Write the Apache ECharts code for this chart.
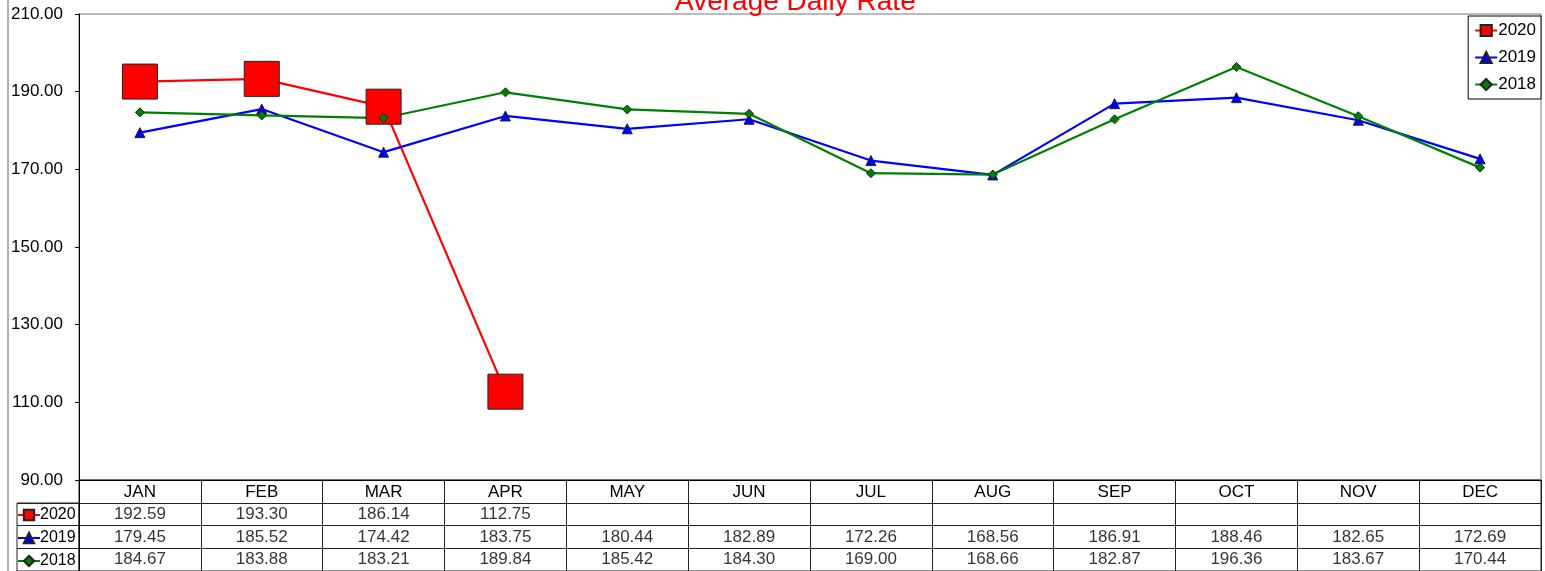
<!DOCTYPE html>
<html>
<head>
<meta charset="utf-8">
<script src="https://cdn.jsdelivr.net/npm/echarts@6/dist/echarts.min.js"></script>
<style>
  html, body { margin: 0; padding: 0; background: #fff; }
  #chart { width: 1545px; height: 571px; }
</style>
</head>
<body>
<div id="chart"></div>
<script>
// Chart data
const months = ["JAN", "FEB", "MAR", "APR", "MAY", "JUN", "JUL", "AUG", "SEP", "OCT", "NOV", "DEC"];
const years = ["2020", "2019", "2018"];
const rate2020 = [192.59, 193.30, 186.14, 112.75, null, null, null, null, null, null, null, null];
const rate2019 = [179.45, 185.52, 174.42, 183.75, 180.44, 182.89, 172.26, 168.56, 186.91, 188.46, 182.65, 172.69];
const rate2018 = [184.67, 183.88, 183.21, 189.84, 185.42, 184.30, 169.00, 168.66, 182.87, 196.36, 183.67, 170.44];

const chart = echarts.init(document.getElementById("chart"));
const font = "Liberation Sans, Arial, sans-serif";
const fs = 17;

// table cells: rows from bottom 2018 (0), 2019 (1), 2020 (2)
const tableRows = [rate2018, rate2019, rate2020];
const cells = [];
tableRows.forEach((row, r) => {
  row.forEach((v, i) => {
    if (v != null) cells.push([i, r + 0.5, v]);
  });
});

const lineSeries = (name, data, color, symbol, size) => ({
  name: name,
  type: "line",
  xAxisIndex: 0,
  yAxisIndex: 0,
  data: data,
  symbol: symbol,
  symbolSize: size,
  connectNulls: false,
  lineStyle: { color: color, width: 2.2 },
  itemStyle: { color: color, borderColor: "#222", borderWidth: 1 },
  emphasis: { disabled: true },
});

const rowLegend = (name, top) => ({
  data: [name],
  left: 17,
  top: top,
  padding: 0,
  itemWidth: 22,
  itemHeight: 13,
  selectedMode: false,
  textStyle: { fontFamily: font, fontSize: 16, color: "#000", padding: [0, 0, 0, -5] },
});

const option = {
  animation: false,
  title: {
    text: "Average Daily Rate",
    left: 670,
    top: -17,
    textStyle: { color: "#ff0000", fontFamily: font, fontSize: 28, fontWeight: "normal" },
  },
  legend: [
    {
      data: years,
      orient: "vertical",
      right: 4,
      top: 16,
      padding: [6, 5, 6, 6],
      itemGap: 10,
      itemWidth: 22,
      itemHeight: 14,
      borderColor: "#000",
      borderWidth: 1,
      backgroundColor: "#fff",
      selectedMode: false,
      textStyle: { fontFamily: font, fontSize: fs, color: "#000", padding: [0, 0, 0, -4] },
    },
    rowLegend("2020", 507),
    rowLegend("2019", 530),
    rowLegend("2018", 553),
  ],
  grid: [
    { left: 79, right: 4, top: 14, height: 466, show: true, borderColor: "#777", borderWidth: 1 },
    { left: 79, right: 4, top: 480, height: 92, show: true, borderColor: "#222", borderWidth: 1 },
    { left: 17, width: 62, top: 503, height: 69, show: true, borderColor: "#222", borderWidth: 1 },
  ],
  xAxis: [
    {
      gridIndex: 0,
      type: "category",
      data: months,
      boundaryGap: true,
      axisLine: { lineStyle: { color: "#000" } },
      axisTick: { show: false },
      axisLabel: { margin: 4, fontFamily: font, fontSize: fs, color: "#000" },
    },
    {
      gridIndex: 1,
      type: "category",
      data: months,
      boundaryGap: true,
      axisLine: { show: false },
      axisTick: { show: false },
      axisLabel: { show: false },
      splitLine: { show: true, lineStyle: { color: "#222", width: 1 } },
    },
    { gridIndex: 2, type: "value", min: 0, max: 1, show: false },
  ],
  yAxis: [
    {
      gridIndex: 0,
      type: "value",
      min: 90,
      max: 210,
      interval: 20,
      axisLine: { show: true, lineStyle: { color: "#000" } },
      axisTick: { show: true, length: 4, lineStyle: { color: "#000" } },
      splitLine: { show: false },
      axisLabel: {
        margin: 16,
        fontFamily: font,
        fontSize: fs,
        color: "#000",
        formatter: (v) => v.toFixed(2),
      },
    },
    {
      gridIndex: 1,
      type: "value",
      min: 0,
      max: 4,
      interval: 1,
      axisLine: { show: true, lineStyle: { color: "#000" } },
      axisTick: { show: false },
      axisLabel: { show: false },
      splitLine: { show: true, lineStyle: { color: "#222", width: 1 } },
    },
    {
      gridIndex: 2,
      type: "value",
      min: 0,
      max: 3,
      interval: 1,
      axisLine: { show: false },
      axisTick: { show: false },
      axisLabel: { show: false },
      splitLine: { show: true, lineStyle: { color: "#222", width: 1 } },
    },
  ],
  graphic: [
    {
      type: "line",
      shape: { x1: 8, y1: 0, x2: 8, y2: 571 },
      style: { stroke: "#666", lineWidth: 1 },
    },
  ],
  series: [
    lineSeries("2020", rate2020, "#ff0000", "rect", 35),
    lineSeries("2019", rate2019, "#0000ff", "triangle", 10),
    lineSeries("2018", rate2018, "#008000", "diamond", 9),
    {
      type: "scatter",
      xAxisIndex: 1,
      yAxisIndex: 1,
      data: cells,
      symbolSize: 1,
      itemStyle: { color: "rgba(0,0,0,0)" },
      emphasis: { disabled: true },
      label: {
        show: true,
        position: "inside",
        fontFamily: font,
        fontSize: fs,
        color: "#000",
        formatter: (p) => p.value[2].toFixed(2),
      },
    },
  ],
};

chart.setOption(option);
</script>
</body>
</html>
